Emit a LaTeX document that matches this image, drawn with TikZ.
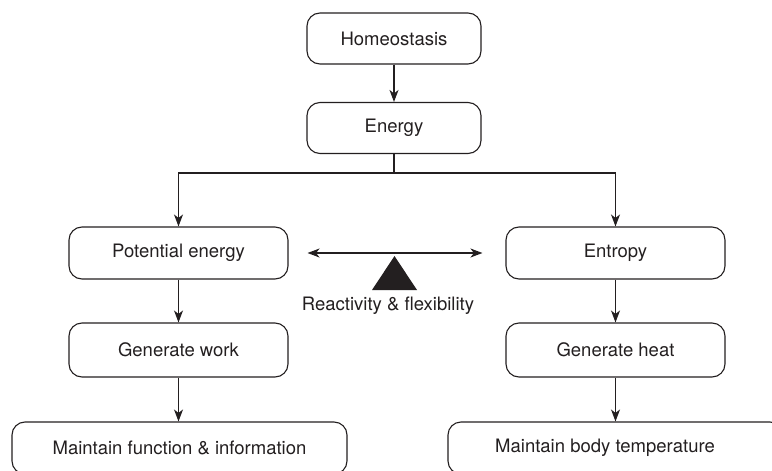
\documentclass[tikz,border=0pt]{standalone}
\usepackage{fontspec}
\setmainfont{TeX Gyre Heros}
\usetikzlibrary{arrows.meta}
\definecolor{ink}{HTML}{231F20}
\begin{document}
\begin{tikzpicture}[x=1pt,y=-1pt,
  box/.style={draw=ink, line width=1.1pt, rounded corners=13pt, text=ink,
    font=\fontsize{18.5pt}{22pt}\selectfont, inner sep=0pt},
  boxA/.style={box, minimum width=174pt, minimum height=51pt},
  boxB/.style={box, minimum width=219pt, minimum height=52pt},
  boxC/.style={box, minimum width=335pt, minimum height=52pt},
  conn/.style={draw=ink, line width=1.1pt},
  tip/.tip={Stealth[length=12pt,width=9pt,inset=3.5pt]},
  arr/.style={conn, -tip},
  lbl/.style={text=ink, font=\fontsize{18.5pt}{22pt}\selectfont, inner sep=0pt}]
\useasboundingbox (0,0) rectangle (772,471);
\clip (0,0) rectangle (772,471);
\node[boxA] (h) at (394,38.5) {Homeostasis};
\node[boxA] (e) at (394,128) {Energy};
\node[boxB] (pe) at (178.5,253) {Potential energy};
\node[boxB] (en) at (615.5,253) {Entropy};
\node[boxB, minimum height=54pt] (gw) at (178.5,350) {Generate work};
\node[boxB, minimum height=54pt] (gh) at (615.5,350) {Generate heat};
\node[boxC] (mf) at (179.5,448) {Maintain function \& information};
\node[boxC] (mb) at (615.5,448) {};
\node[lbl] (mbt) at (605,448) {Maintain body temperature};
\coordinate (split) at (394,173);
\draw[arr] (h) -- (e);
\draw[conn] (e) -- (split);
\draw[arr] (split) -| (pe.north);
\draw[arr] (split) -| (en.north);
\draw[arr] (pe) -- (gw);
\draw[arr] (en) -- (gh);
\draw[arr] (gw.south) -- (gw.south |- mf.north);
\draw[arr] (gh) -- (mb);
\draw[conn, tip-tip, shorten <=19pt, shorten >=23pt] (pe) -- (en);
\coordinate (tri) at (394.5,256);
\fill[ink] (tri) -- ++(-22.5,34) -- ++(45,0) -- cycle;
\node[lbl] (rf) at (388,306) {Reactivity \& flexibility};
\end{tikzpicture}
\end{document}
